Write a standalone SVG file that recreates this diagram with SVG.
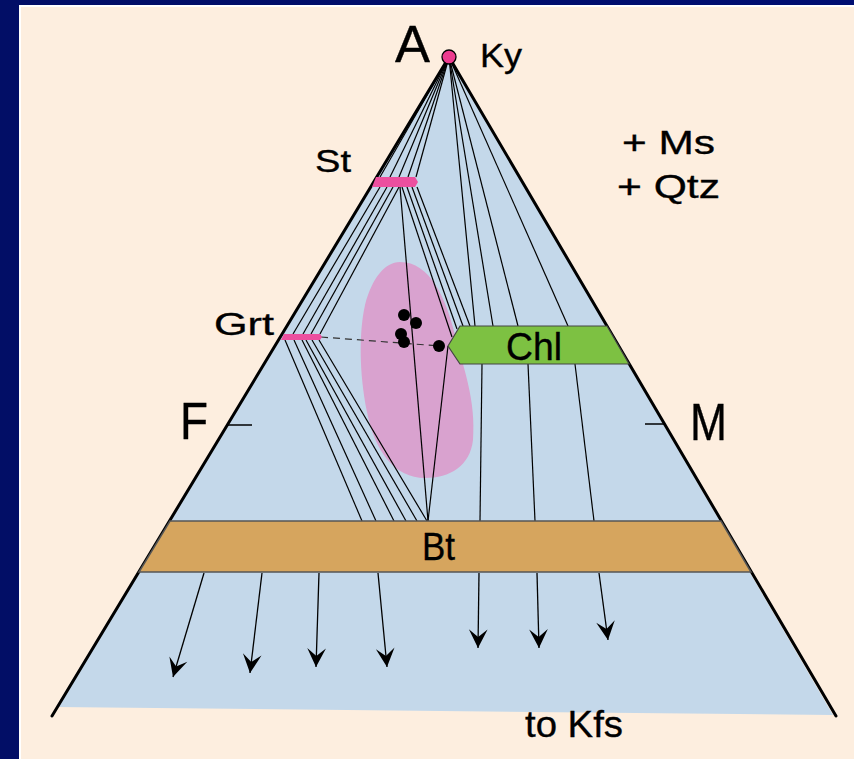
<svg xmlns="http://www.w3.org/2000/svg" width="854" height="759" viewBox="0 0 854 759">
<style>
.t{font-family:"Liberation Sans",Arial,sans-serif;fill:#000;stroke:#000;stroke-width:0.35}
.tie{stroke:#000;stroke-width:1.2;fill:none}
.edge{stroke:#000;stroke-width:3;fill:none;stroke-linecap:round}
.arr{stroke:#000;stroke-width:1.3;fill:none;marker-end:url(#ah)}
.bar{fill:#ec4f9f}
</style>
<defs>
<linearGradient id="bg" x1="0" y1="0" x2="1" y2="0">
<stop offset="0" stop-color="#020e66"/>
<stop offset="1" stop-color="#000e72"/>
</linearGradient>
<marker id="ah" markerUnits="userSpaceOnUse" markerWidth="22" markerHeight="22" viewBox="-18 -10 20 20" refX="0" refY="0" orient="auto">
<path d="M0,0 L-17,-8.5 L-10,0 L-17,8.5 Z" fill="#000"/>
</marker>
</defs>
<rect width="854" height="759" fill="url(#bg)"/>
<rect x="19" y="5" width="835" height="754" fill="#ffffff"/>
<rect x="21" y="7" width="833" height="752" fill="#fdeedf"/>

<g id="triangle">
<polygon points="449,57 56,707 833,715" fill="#c4d8ea"/>
</g>

<g id="blob">
<path d="M400,262 C430,262 446,298 455,335 C464,370 476,400 473,440 C470,466 450,478 425,478 C395,478 375,452 367,412 C359,372 359,332 365,305 C372,278 385,262 400,262 Z" fill="#d9a2cf"/>
</g>

<g id="connectors">
<line class="tie" x1="449" y1="57" x2="380" y2="177"/>
<line class="tie" x1="449" y1="57" x2="390" y2="177"/>
<line class="tie" x1="449" y1="57" x2="399" y2="177"/>
<line class="tie" x1="449" y1="57" x2="408" y2="177"/>
<line class="tie" x1="449" y1="57" x2="416" y2="177"/>
<line class="tie" x1="449" y1="57" x2="475" y2="326"/>
<line class="tie" x1="449" y1="57" x2="493" y2="326"/>
<line class="tie" x1="449" y1="57" x2="518" y2="326"/>
<line class="tie" x1="449" y1="57" x2="568" y2="326"/>
<line class="tie" x1="380" y1="187" x2="293" y2="334"/>
<line class="tie" x1="387" y1="187" x2="303" y2="334"/>
<line class="tie" x1="393" y1="187" x2="311" y2="334"/>
<line class="tie" x1="399" y1="187" x2="320" y2="334"/>
<line class="tie" x1="402" y1="187" x2="452" y2="337"/>
<line class="tie" x1="407" y1="187" x2="457" y2="329"/>
<line class="tie" x1="412" y1="187" x2="463" y2="326"/>
<line class="tie" x1="417" y1="187" x2="470" y2="326"/>
<line class="tie" x1="400" y1="187" x2="428" y2="521"/>
<line class="tie" x1="448" y1="346" x2="428" y2="521"/>
<line class="tie" x1="482" y1="364" x2="480" y2="521"/>
<line class="tie" x1="528" y1="364" x2="535" y2="521"/>
<line class="tie" x1="575" y1="364" x2="594" y2="521"/>
<line class="tie" x1="285" y1="340" x2="362" y2="521"/>
<line class="tie" x1="294" y1="340" x2="376" y2="521"/>
<line class="tie" x1="302" y1="340" x2="394" y2="521"/>
<line class="tie" x1="306" y1="340" x2="406" y2="521"/>
<line class="tie" x1="312" y1="340" x2="417" y2="521"/>
<line class="tie" x1="319" y1="340" x2="427" y2="521"/>
<line x1="321" y1="337" x2="440" y2="346" stroke="#333" stroke-width="1.2" stroke-dasharray="7,5"/>
<line class="arr" x1="204" y1="573" x2="173" y2="677"/>
<line class="arr" x1="262" y1="573" x2="250" y2="673"/>
<line class="arr" x1="319" y1="573" x2="316" y2="667"/>
<line class="arr" x1="378" y1="573" x2="387" y2="667"/>
<line class="arr" x1="479" y1="573" x2="478" y2="648"/>
<line class="arr" x1="537" y1="573" x2="539" y2="648"/>
<line class="arr" x1="599" y1="573" x2="608" y2="640"/>
</g>

<g id="edges">
<line class="edge" x1="449" y1="57" x2="52" y2="716"/>
<line class="edge" x1="449" y1="57" x2="836" y2="716"/>
<line x1="227" y1="425" x2="252" y2="425" stroke="#000" stroke-width="1.5"/>
<line x1="645" y1="424" x2="664" y2="424" stroke="#000" stroke-width="1.5"/>
</g>

<g id="st">
<path class="bar" d="M376,177 L415,177 L418,182 L415,187 L372,187 Z"/>
<text class="t" x="315" y="172" font-size="32" textLength="36" lengthAdjust="spacingAndGlyphs">St</text>
</g>

<g id="grt">
<path class="bar" d="M284,334 L320,334 L322,337 L320,340 L281,340 Z"/>
<text class="t" x="214" y="335" font-size="32" textLength="60" lengthAdjust="spacingAndGlyphs">Grt</text>
</g>

<g id="chl">
<polygon points="448,346 460,326 607,326 629,364 460,364" fill="#7dc142" stroke="#444" stroke-width="1.2"/>
<text class="t" x="506" y="360" font-size="38" textLength="56" lengthAdjust="spacingAndGlyphs">Chl</text>
</g>

<g id="bt">
<polygon points="170,521 721,521 751,572 139,572" fill="#d6a55e" stroke="#555" stroke-width="1.5"/>
<text class="t" x="422" y="560" font-size="38" textLength="33" lengthAdjust="spacingAndGlyphs">Bt</text>
</g>

<g id="dots">
<circle cx="404" cy="315" r="6"/>
<circle cx="416" cy="323" r="6"/>
<circle cx="401" cy="334" r="6"/>
<circle cx="404" cy="342" r="6"/>
<circle cx="439" cy="346" r="6"/>
</g>

<g id="ky">
<circle cx="449" cy="57" r="7" fill="#ec3b8f" stroke="#000" stroke-width="1.3"/>
<text class="t" x="480" y="67" font-size="34" textLength="42" lengthAdjust="spacingAndGlyphs">Ky</text>
</g>

<g id="labels">
<text class="t" x="395" y="62" font-size="52" textLength="35" lengthAdjust="spacingAndGlyphs">A</text>
<text class="t" x="180" y="439" font-size="52" textLength="28" lengthAdjust="spacingAndGlyphs">F</text>
<text class="t" x="690" y="440" font-size="52" textLength="37" lengthAdjust="spacingAndGlyphs">M</text>
<text class="t" x="622" y="154" font-size="33" textLength="93" lengthAdjust="spacingAndGlyphs">+ Ms</text>
<text class="t" x="617" y="198" font-size="33" textLength="103" lengthAdjust="spacingAndGlyphs">+ Qtz</text>
<text class="t" x="525" y="737" font-size="36" textLength="98" lengthAdjust="spacingAndGlyphs">to Kfs</text>
</g>
</svg>
